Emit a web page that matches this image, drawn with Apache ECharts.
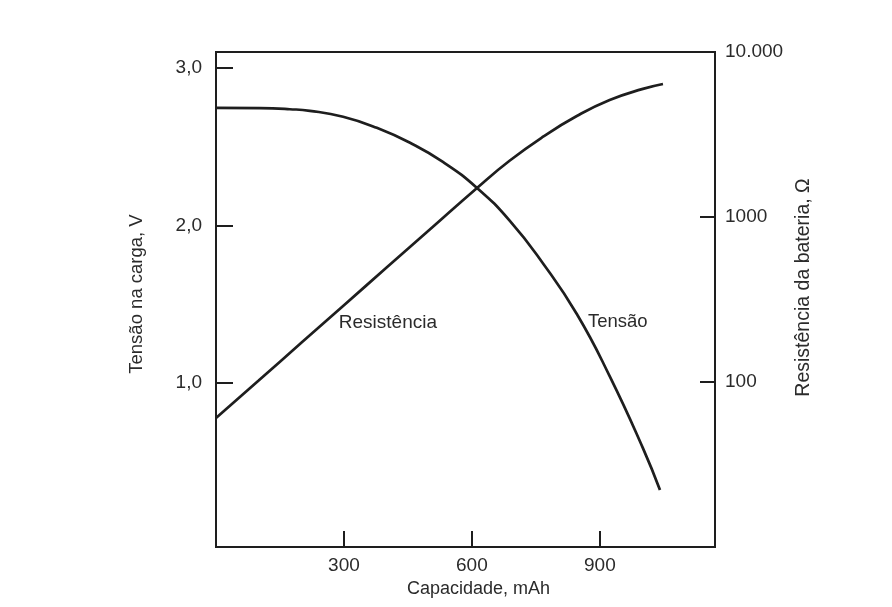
<!DOCTYPE html>
<html>
<head>
<meta charset="utf-8">
<script src="https://cdn.jsdelivr.net/npm/echarts@6/dist/echarts.min.js"></script>
<style>html,body{margin:0;padding:0;background:#fff;}#c{width:892px;height:607px;}</style>
</head>
<body>
<div id="c"></div>
<script>
// Data
const tensaoCap = [0, 103, 173, 220, 298, 377, 455, 532, 612, 689, 766, 846, 923, 1001, 1041];
const tensaoV   = [2.746, 2.744, 2.737, 2.727, 2.689, 2.619, 2.524, 2.403, 2.238, 2.029, 1.762, 1.438, 1.044, 0.587, 0.321];
const resistCap = [0, 100, 200, 300, 400, 500, 612, 689, 766, 846, 923, 1001, 1048];
const resistOhm = [60.5, 102, 173, 292, 494, 833, 1500, 2199, 3055, 4092, 5117, 5975, 6400];
const xTicks = [300, 600, 900];
const vTicks = [1, 2, 3];
const xName = 'Capacidade, mAh';
const vName = 'Tensão na carga, V';
const rName = 'Resistência da bateria, Ω';
const tensaoLabel = 'Tensão';
const resistLabel = 'Resistência';

const FONT = '"Liberation Sans", Arial, sans-serif';
const INK = '#1e1e1e';
const TXT = '#2b2b2b';

const chart = echarts.init(document.getElementById('c'), null, {renderer: 'canvas'});
chart.setOption({
  backgroundColor: '#ffffff',
  animation: false,
  grid: {left: 216, right: 177, top: 52, bottom: 60, show: true, borderColor: INK, borderWidth: 2, backgroundColor: 'transparent'},
  xAxis: {
    type: 'value', min: 0, max: 1170,
    name: xName, nameLocation: 'middle', nameGap: 33,
    nameTextStyle: {fontFamily: FONT, fontSize: 18, color: TXT, padding: [0, 0, 0, 26]},
    axisLine: {show: true, onZero: false, lineStyle: {color: INK, width: 2}},
    axisTick: {show: true, inside: true, length: 16, lineStyle: {color: INK, width: 2}, customValues: xTicks},
    axisLabel: {show: true, margin: 9, fontFamily: FONT, fontSize: 19, color: TXT, customValues: xTicks},
    splitLine: {show: false}
  },
  yAxis: [{
    type: 'value', min: -0.04, max: 3.1, position: 'left',
    name: vName, nameLocation: 'middle', nameGap: 70, nameRotate: 90,
    nameTextStyle: {fontFamily: FONT, fontSize: 18.5, color: TXT, padding: [0, 0, 0, 11]},
    axisLine: {show: true, onZero: false, lineStyle: {color: INK, width: 2}},
    axisTick: {show: true, inside: true, length: 17, lineStyle: {color: INK, width: 2}, customValues: vTicks},
    axisLabel: {show: true, margin: 14, fontFamily: FONT, fontSize: 19, color: TXT, customValues: vTicks,
      formatter: v => v.toFixed(1).replace('.', ',')},
    splitLine: {show: false}
  }, {
    type: 'log', logBase: 10, min: 10, max: 10000, position: 'right',
    name: rName, nameLocation: 'middle', nameGap: 74, nameRotate: 90,
    nameTextStyle: {fontFamily: FONT, fontSize: 19.5, color: TXT, padding: [0, 0, 0, 24]},
    axisLine: {show: true, onZero: false, lineStyle: {color: INK, width: 2}},
    axisTick: {show: true, inside: true, length: 15, lineStyle: {color: INK, width: 2}},
    axisLabel: {show: true, margin: 10, fontFamily: FONT, fontSize: 19, color: TXT,
      formatter: v => {
        const r = Math.round(v);
        if (r <= 10) return '';
        if (r >= 10000) return '10.000';
        return String(r);
      }},
    splitLine: {show: false}
  }],
  series: [{
    name: tensaoLabel, type: 'line', yAxisIndex: 0, smooth: 0.5, showSymbol: false, symbol: 'none',
    lineStyle: {color: INK, width: 2.7},
    data: tensaoCap.map((c, i) => [c, tensaoV[i]]),
    markPoint: {
      symbol: 'circle', symbolSize: 0, silent: true,
      label: {show: true, position: [0, 0], align: 'left', verticalAlign: 'middle', fontFamily: FONT, fontSize: 18.5, color: TXT,
        formatter: tensaoLabel},
      data: [{coord: [872, 1.387]}]
    }
  }, {
    name: resistLabel, type: 'line', yAxisIndex: 1, smooth: 0.5, showSymbol: false, symbol: 'none',
    lineStyle: {color: INK, width: 2.7},
    data: resistCap.map((c, i) => [c, resistOhm[i]]),
    markPoint: {
      symbol: 'circle', symbolSize: 0, silent: true,
      label: {show: true, position: [0, 0], align: 'left', verticalAlign: 'middle', fontFamily: FONT, fontSize: 19, color: TXT,
        formatter: resistLabel},
      data: [{coord: [288, 228]}]
    }
  }]
});
</script>
</body>
</html>
